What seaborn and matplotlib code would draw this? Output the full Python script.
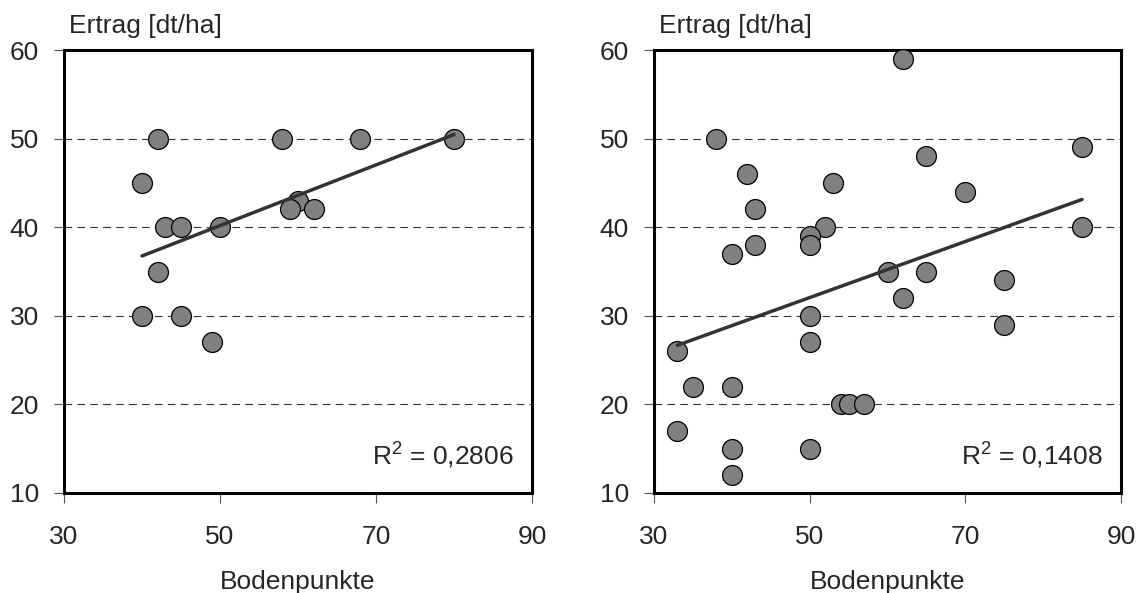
import numpy as np
import pandas as pd
import seaborn as sns
import matplotlib.pyplot as plt

# left panel
boden_a = [42, 40, 43, 45, 50, 58, 68, 80, 60, 59, 62, 42, 40, 45, 49]
ertrag_a = [50, 45, 40, 40, 40, 50, 50, 50, 43, 42, 42, 35, 30, 30, 27]

# right panel
boden_b = [62, 38, 65, 85, 42, 53, 70, 43, 52, 50, 50, 43, 40, 85, 60, 65,
           75, 62, 50, 75, 50, 33, 35, 40, 54, 55, 57, 33, 40, 50, 40]
ertrag_b = [59, 50, 48, 49, 46, 45, 44, 42, 40, 39, 38, 38, 37, 40, 35, 35,
            34, 32, 30, 29, 27, 26, 22, 22, 20, 20, 20, 17, 15, 15, 12]

r2_labels = ['0,2806', '0,1408']
x_ticks = [30, 50, 70, 90]
y_ticks = [10, 20, 30, 40, 50, 60]

sns.set_style('white')
plt.rcParams['font.family'] = ['Liberation Sans', 'DejaVu Sans']
plt.rcParams['lines.scale_dashes'] = False

fig = plt.figure(figsize=(11.42, 5.93), dpi=100)
ax1 = fig.add_axes([64/1142, 1-493/593, 468/1142, 443/593])
ax2 = fig.add_axes([654/1142, 1-493/593, 467/1142, 443/593])

fs = 19
for ax, xs, ys, r2 in [(ax1, boden_a, ertrag_a, r2_labels[0]),
                       (ax2, boden_b, ertrag_b, r2_labels[1])]:
    df = pd.DataFrame({'Bodenpunkte': xs, 'Ertrag': ys})
    ax.set_axisbelow(True)
    ax.yaxis.grid(True, color='#333333', linewidth=0.8, linestyle=(0, (5.5, 3.8)))
    sns.regplot(data=df, x='Bodenpunkte', y='Ertrag', ax=ax, ci=None,
                scatter_kws=dict(s=205, color='#808080', edgecolor='black',
                                 linewidths=0.9, alpha=1, zorder=3),
                line_kws=dict(color='#333333', linewidth=2.5, zorder=4))
    ax.set_xlim(30, 90)
    ax.set_ylim(10, 60)
    ax.set_xticks(x_ticks)
    ax.set_yticks(y_ticks)
    ax.tick_params(axis='x', direction='out', length=7, width=0.8, color='#555555',
                   bottom=True, pad=16, labelsize=fs)
    ax.tick_params(axis='y', direction='out', length=7, width=0.8, color='#555555',
                   left=True, pad=11, labelsize=fs)
    for sp in ax.spines.values():
        sp.set_linewidth(2.2)
        sp.set_color('black')
    ax.set_xlabel('Bodenpunkte', fontsize=fs, labelpad=15)
    ax.set_ylabel('')
    ax.text(0.01, 1.038, 'Ertrag [dt/ha]', transform=ax.transAxes,
            fontsize=fs, ha='left', va='baseline')
    ax.text(0.962, 0.062, r'$\mathregular{R^2}$ = ' + r2, transform=ax.transAxes,
            fontsize=fs, ha='right', va='baseline')

fig.savefig('out.png', dpi=100)
